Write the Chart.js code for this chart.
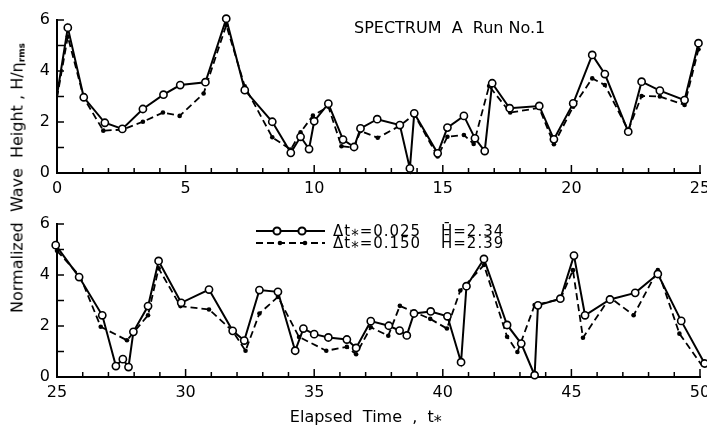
<!DOCTYPE html>
<html>
<head>
<meta charset="utf-8">
<script src="https://cdn.jsdelivr.net/npm/chart.js@4.4.0/dist/chart.umd.min.js"></script>
<style>
  html, body { margin: 0; padding: 0; background: #fff; overflow: hidden; }
  #wrap { position: relative; width: 707px; height: 426px; font-family: "DejaVu Sans", sans-serif; color: #000; }
  canvas { position: absolute; left: 0; }
  #topChart { top: 0; }
  #bottomChart { top: 200px; }
  .txt { position: absolute; white-space: pre; font-size: 16px; line-height: 1; }
  #title { left: 354px; top: 20px; }
  #ylabel { left: 18px; top: 178px; transform: translate(-50%, -50%) rotate(-90deg); }
  #ylabel sub { font-size: 9px; font-weight: bold; vertical-align: -2px; }
</style>
</head>
<body>
<div id="wrap">
  <canvas id="topChart" width="707" height="200"></canvas>
  <canvas id="bottomChart" width="707" height="226"></canvas>
  <div class="txt" id="title">SPECTRUM  A  Run No.1</div>
  <div class="txt" id="ylabel">Normalized  Wave  Height , H/η<sub>rms</sub></div>
</div>
<script>
// Run No.1, elapsed time 0-25 : sampling interval 0.025 (open circles)
const topTimeFine = [0, 0.42, 1.04, 1.86, 2.54, 3.34, 4.14, 4.79, 5.77, 6.58, 7.30, 8.37, 9.09, 9.47, 9.80, 10.00,
  10.55, 11.12, 11.55, 11.80, 12.45, 13.33, 13.72, 13.89, 14.80, 15.18, 15.82, 16.25, 16.63, 16.92, 17.60,
  18.75, 19.32, 20.07, 20.81, 21.30, 22.21, 22.73, 23.44, 24.40, 24.94];
const topHeightFine = [3.05, 5.70, 2.97, 1.97, 1.73, 2.51, 3.07, 3.45, 3.56, 6.05, 3.25, 2.01, 0.79, 1.42, 0.94, 2.03,
  2.72, 1.31, 1.02, 1.75, 2.11, 1.88, 0.18, 2.34, 0.77, 1.78, 2.24, 1.36, 0.86, 3.52, 2.54,
  2.63, 1.32, 2.73, 4.63, 3.88, 1.62, 3.58, 3.23, 2.86, 5.09];

// elapsed time 0-25 : sampling interval 0.150 (filled dots)
const topTimeCoarse = [0, 0.42, 1.04, 1.80, 2.54, 3.34, 4.12, 4.77, 5.70, 6.58, 7.30, 8.37, 9.09, 9.47, 9.95, 10.55,
  11.06, 11.55, 11.80, 12.47, 13.33, 13.89, 14.80, 15.18, 15.82, 16.20, 16.80, 17.62, 18.75, 19.32, 20.07,
  20.81, 21.30, 22.21, 22.73, 23.44, 24.40, 24.94];
const topHeightCoarse = [2.95, 5.35, 2.95, 1.66, 1.70, 2.01, 2.37, 2.24, 3.12, 5.80, 3.40, 1.40, 0.92, 1.60, 2.25, 2.60,
  1.05, 1.00, 1.65, 1.38, 1.85, 2.30, 0.65, 1.42, 1.49, 1.14, 3.41, 2.37, 2.55, 1.13, 2.60,
  3.71, 3.45, 1.68, 3.02, 3.00, 2.67, 4.85];

// elapsed time 25-50 : sampling interval 0.025
const botTimeFine = [24.95, 25.86, 26.76, 27.29, 27.56, 27.78, 27.97, 28.54, 28.95, 29.83, 30.91, 31.83, 32.28, 32.87,
  33.59, 34.26, 34.58, 35.00, 35.55, 36.27, 36.63, 37.20, 37.90, 38.32, 38.60, 38.88, 39.53, 40.18, 40.71,
  40.92, 41.60, 42.50, 43.05, 43.57, 43.70, 44.57, 45.10, 45.53, 46.50, 47.48, 48.36, 49.27, 50.18];
const botHeightFine = [5.17, 3.92, 2.42, 0.43, 0.70, 0.39, 1.77, 2.78, 4.55, 2.91, 3.43, 1.81, 1.43, 3.41,
  3.34, 1.03, 1.90, 1.68, 1.55, 1.47, 1.14, 2.19, 2.01, 1.82, 1.63, 2.49, 2.57, 2.38, 0.58,
  3.56, 4.63, 2.04, 1.31, 0.07, 2.81, 3.07, 4.76, 2.42, 3.04, 3.30, 4.04, 2.20, 0.53];

// elapsed time 25-50 : sampling interval 0.150
const botTimeCoarse = [25.00, 25.90, 26.70, 27.72, 28.54, 28.95, 29.80, 30.91, 31.83, 32.33, 32.87, 33.59, 34.41,
  35.47, 36.27, 36.63, 37.20, 37.88, 38.33, 39.51, 40.16, 40.68, 41.60, 42.50, 42.90, 43.57, 44.57,
  45.06, 45.45, 46.50, 47.42, 48.36, 49.20, 50.18];
const botHeightCoarse = [4.95, 3.95, 1.97, 1.44, 2.42, 4.26, 2.78, 2.65, 1.80, 1.03, 2.49, 3.14, 1.57,
  1.03, 1.18, 0.89, 1.95, 1.62, 2.79, 2.28, 1.90, 3.39, 4.39, 1.58, 0.98, 2.82, 3.05,
  4.19, 1.54, 3.12, 2.42, 4.19, 1.70, 0.30];

// tick labels
const xLabelsTop = [0, 5, 10, 15, 20, 25];
const xLabelsBottom = [25, 30, 35, 40, 45, 50];
const yLabels = [0, 2, 4, 6];

// legend text
const seriesLabels = ['\u0394t\u204E=0.025', '\u0394t\u204E=0.150'];
const seriesMeans = ['H\u0304=2.34', 'H\u0304=2.39'];

const FONT = '"DejaVu Sans", sans-serif';

function points(xs, ys) {
  return xs.map((x, i) => ({ x, y: ys[i] }));
}

const solidStyle = {
  borderColor: '#000', borderWidth: 2, tension: 0, clip: false,
  pointStyle: 'circle', pointRadius: 3.6, pointBackgroundColor: '#fff',
  pointBorderColor: '#000', pointBorderWidth: 1.6
};
const dashedStyle = {
  borderColor: '#000', borderWidth: 1.8, borderDash: [7, 4], tension: 0, clip: false,
  pointStyle: 'circle', pointRadius: 2.3, pointBackgroundColor: '#000',
  pointBorderColor: '#000', pointBorderWidth: 0
};

// short tick marks pointing into the plot
const innerTicks = {
  id: 'innerTicks',
  beforeDatasetsDraw(chart) {
    const { ctx, chartArea: a, scales: { x, y } } = chart;
    ctx.save();
    ctx.strokeStyle = '#000';
    ctx.lineWidth = 1.5;
    x.ticks.forEach(t => {
      if (t.value === x.min) return;
      const px = x.getPixelForValue(t.value);
      const len = t.value % 5 === 0 ? 8 : 5;
      ctx.beginPath(); ctx.moveTo(px, a.bottom); ctx.lineTo(px, a.bottom - len); ctx.stroke();
    });
    y.ticks.forEach(t => {
      if (t.value === y.min) return;
      const py = y.getPixelForValue(t.value);
      ctx.beginPath(); ctx.moveTo(a.left, py); ctx.lineTo(a.left + 7, py); ctx.stroke();
    });
    ctx.restore();
  }
};

// two-row key with a line sample carrying two markers
const sampleKey = {
  id: 'sampleKey',
  afterDraw(chart) {
    const { ctx } = chart;
    const rows = [31, 43];
    ctx.save();
    chart.data.datasets.forEach((ds, i) => {
      const yy = rows[i];
      ctx.strokeStyle = ds.borderColor;
      ctx.lineWidth = ds.borderWidth;
      ctx.setLineDash(ds.borderDash || []);
      ctx.beginPath(); ctx.moveTo(256, yy); ctx.lineTo(325, yy); ctx.stroke();
      ctx.setLineDash([]);
      const mk = i === 0 ? [277, 302] : [280, 305];
      mk.forEach(mx => {
        ctx.fillStyle = ds.pointBackgroundColor;
        ctx.strokeStyle = ds.pointBorderColor;
        Chart.helpers.drawPoint(ctx, {
          pointStyle: 'circle', radius: ds.pointRadius,
          borderWidth: ds.pointBorderWidth, rotation: 0
        }, mx, yy);
      });
      ctx.fillStyle = '#000';
      ctx.font = '15px ' + FONT;
      ctx.letterSpacing = '1px';
      ctx.textBaseline = 'middle';
      ctx.textAlign = 'left';
      ctx.fillText(seriesLabels[i], 333, yy + 1.5);
      ctx.fillText(seriesMeans[i], 441, yy + 1.5);
    });
    ctx.restore();
  }
};

function makeScales(xmin, xmax, xLabels, axisHeight, title) {
  return {
    x: {
      type: 'linear', min: xmin, max: xmax,
      grid: { display: false, drawTicks: false },
      border: { display: true, color: '#000', width: 2 },
      ticks: {
        stepSize: 1, autoSkip: false, maxRotation: 0, padding: 6, color: '#000',
        font: { family: FONT, size: 16 },
        callback: v => (xLabels.includes(v) ? String(v) : '')
      },
      title: title ? {
        display: true, text: title, color: '#000',
        font: { family: FONT, size: 16, lineHeight: 1 },
        padding: { top: 0, bottom: 0 }
      } : { display: false },
      afterFit: s => { s.height = axisHeight; s.paddingLeft = 0; s.paddingRight = 0; }
    },
    y: {
      type: 'linear', min: 0, max: 6,
      grid: { display: false, drawTicks: false },
      border: { display: true, color: '#000', width: 2 },
      ticks: {
        stepSize: 1, autoSkip: false, padding: 7, color: '#000',
        font: { family: FONT, size: 16 },
        callback: v => (yLabels.includes(v) ? String(v) : '')
      },
      afterFit: s => { s.width = 57; s.paddingTop = 0; s.paddingBottom = 0; }
    }
  };
}

const common = {
  responsive: false,
  animation: false,
  plugins: { legend: { display: false }, tooltip: { enabled: false } },
  elements: { line: { borderCapStyle: 'butt' } }
};

new Chart(document.getElementById('topChart'), {
  type: 'line',
  data: {
    datasets: [
      Object.assign({ label: seriesLabels[0], data: points(topTimeFine, topHeightFine) }, solidStyle,
        { pointRadius: c => (c.dataIndex === 0 ? 0 : 3.6) }),
      Object.assign({ label: seriesLabels[1], data: points(topTimeCoarse, topHeightCoarse) }, dashedStyle,
        { pointRadius: c => (c.dataIndex === 0 ? 0 : 2.3) })
    ]
  },
  options: Object.assign({}, common, {
    layout: { padding: { top: 20, right: 7, bottom: 0, left: 0 } },
    scales: makeScales(0, 25, xLabelsTop, 27, null)
  }),
  plugins: [innerTicks]
});

new Chart(document.getElementById('bottomChart'), {
  type: 'line',
  data: {
    datasets: [
      Object.assign({ label: seriesLabels[0], data: points(botTimeFine, botHeightFine) }, solidStyle),
      Object.assign({ label: seriesLabels[1], data: points(botTimeCoarse, botHeightCoarse) }, dashedStyle)
    ]
  },
  options: Object.assign({}, common, {
    layout: { padding: { top: 24, right: 7, bottom: 0, left: 0 } },
    scales: makeScales(25, 50, xLabelsBottom, 49, 'Elapsed  Time  ,  t\u204E     ')
  }),
  plugins: [innerTicks, sampleKey]
});
</script>
</body>
</html>
